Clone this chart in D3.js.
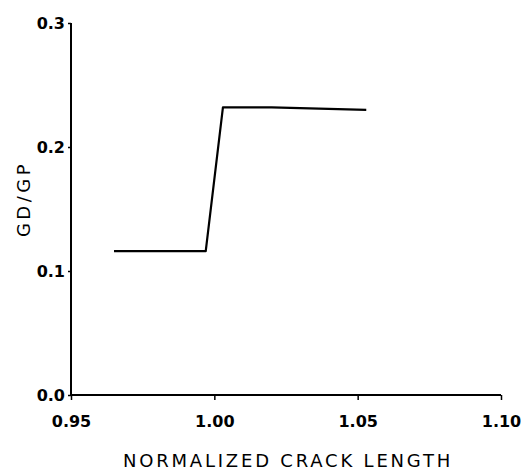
<!DOCTYPE html>
<html>
<head>
<meta charset="utf-8">
<script src="https://cdn.jsdelivr.net/npm/d3@7"></script>
<style>
  body { margin: 0; background: #fff; }
  text { font-family: "DejaVu Sans", "Liberation Sans", sans-serif; fill: #000; }
</style>
</head>
<body>
<svg id="chart" width="529" height="473"></svg>
<script>
// crack length vs GD/GP
const crackLength = [0.965, 0.997, 1.003, 1.02, 1.053];
const gdgp = [0.116, 0.116, 0.232, 0.232, 0.230];
const xTicks = [0.95, 1.0, 1.05, 1.1];
const yTicks = [0.0, 0.1, 0.2, 0.3];

const svg = d3.select("#chart");

const x = d3.scaleLinear().domain([0.95, 1.1]).range([71, 501]);
const y = d3.scaleLinear().domain([0, 0.3]).range([395, 23]);

// x axis
const xAxis = d3.axisBottom(x)
  .tickValues(xTicks)
  .tickFormat(d3.format(".2f"))
  .tickSize(5);

const gx = svg.append("g")
  .attr("transform", `translate(0,${y(0)})`)
  .call(xAxis);
gx.select(".domain").attr("stroke-width", 2).attr("d", `M${x(0.95)},0H${x(1.1)}`);
gx.selectAll(".tick line").attr("stroke-width", 1.5);
gx.selectAll(".tick text")
  .attr("font-size", 16)
  .attr("font-weight", "bold")
  .attr("y", 21);

// y axis
const yAxis = d3.axisLeft(y)
  .tickValues(yTicks)
  .tickFormat(d3.format(".1f"))
  .tickSize(3)
  .tickPadding(3);

const gy = svg.append("g")
  .attr("transform", `translate(${x(0.95)},0)`)
  .call(yAxis);
gy.select(".domain").attr("stroke-width", 2).attr("d", `M0,${y(0)}V${y(0.3)}`);
gy.selectAll(".tick line").attr("stroke-width", 1.5);
gy.selectAll(".tick text")
  .attr("font-size", 16)
  .attr("font-weight", "bold");

// data line
const line = d3.line()
  .x((d, i) => x(crackLength[i]))
  .y((d) => y(d));

svg.append("path")
  .datum(gdgp)
  .attr("fill", "none")
  .attr("stroke", "#000")
  .attr("stroke-width", 2.2)
  .attr("stroke-linejoin", "round")
  .attr("d", line);

// axis titles
svg.append("text")
  .attr("x", 288)
  .attr("y", 467)
  .attr("text-anchor", "middle")
  .attr("font-size", 18)
  .attr("letter-spacing", "2.8px")
  .text("NORMALIZED CRACK LENGTH");

svg.append("text")
  .attr("transform", "translate(30,199) rotate(-90)")
  .attr("text-anchor", "middle")
  .attr("font-size", 18)
  .attr("letter-spacing", "3.5px")
  .text("GD/GP");
</script>
</body>
</html>
